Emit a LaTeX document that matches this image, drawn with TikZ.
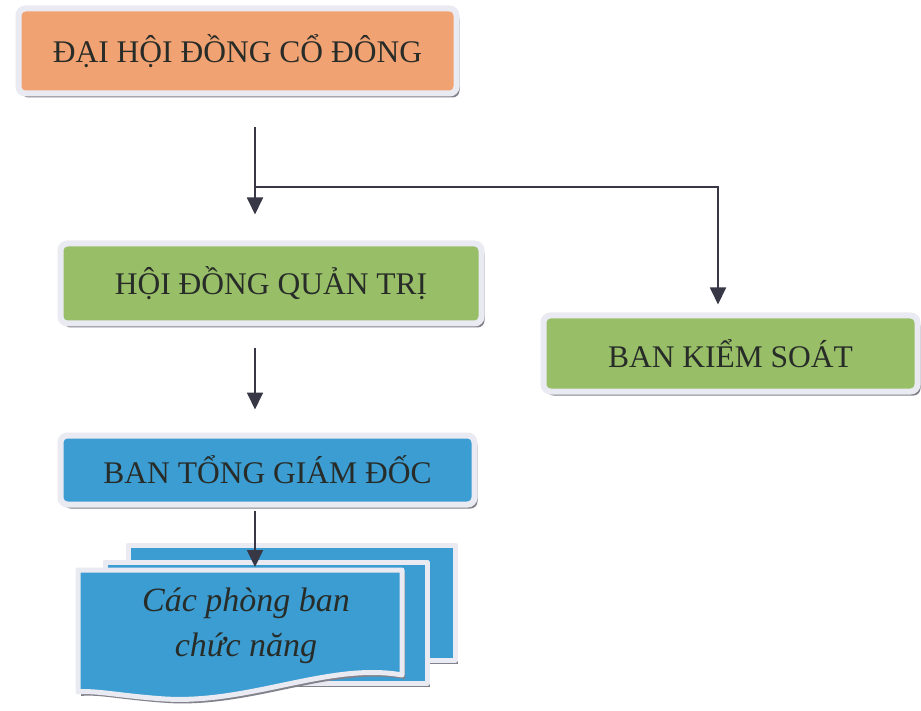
\documentclass[tikz,border=0pt]{standalone}
\usepackage{fontspec}
\setmainfont{Liberation Serif}
\usetikzlibrary{arrows.meta,shadows,positioning}
\definecolor{cam}{RGB}{241,162,114}
\definecolor{luc}{RGB}{152,190,104}
\definecolor{lam}{RGB}{60,157,210}
\definecolor{vien}{RGB}{234,234,242}
\definecolor{bong}{RGB}{130,130,140}
\definecolor{chu}{RGB}{40,44,40}
\definecolor{net}{RGB}{55,55,70}
\tikzset{%
	khoi/.style   = {draw=vien, line width=6pt, rounded corners=7pt, inner sep=0pt, text=chu,
	                 font=\fontsize{31.5}{36}\selectfont,
	                 drop shadow={shadow xshift=3pt, shadow yshift=-4pt, fill=bong, opacity=1}}, % box
	to/.style     = {khoi, fill=cam},
	xanh/.style   = {khoi, fill=luc},
	lamkhoi/.style= {khoi, fill=lam},
	trang/.style  = {draw=vien, line width=5pt, fill=lam, line join=round,
	                 drop shadow={shadow xshift=3pt, shadow yshift=-4pt, fill=bong, opacity=1}}, % sheet
	muiten/.style = {draw=net, line width=1.8pt, -{Triangle[length=17pt,width=16pt]}},
}
\begin{document}
\begin{tikzpicture}[x=1pt, y=-1pt]
	\useasboundingbox[fill=white] (0,0) rectangle (921,711);
	% boxes
	\node[to, minimum width=438pt, minimum height=85pt] (dhd) at (237.5,51) {ĐẠI HỘI ĐỒNG CỔ ĐÔNG};
	\node[xanh, minimum width=421pt, minimum height=80pt] (hdqt) at (271,283.5) {HỘI ĐỒNG QUẢN TRỊ};
	\node[xanh, minimum width=374pt, minimum height=76pt] (bks) at (730.5,353.5) {BAN KIỂM SOÁT};
	\node[lamkhoi, minimum width=414pt, minimum height=69pt] (btgd) at (267.5,470) {BAN TỔNG GIÁM ĐỐC};
	% stacked sheets
	\path[trang] (128,545) -- (455,545) -- (455,660) -- (128,660) -- cycle;
	\path[trang] (105,562) -- (427,562) -- (427,683) -- (105,683) -- cycle;
	\path[trang] (78,570) -- (402,570) -- (402,675)
		.. controls (330,662) and (250,704) .. (165,699)
		.. controls (120,696) and (95,690) .. (78,692) -- cycle;
	\node[align=center, text=chu, font=\fontsize{34}{45}\selectfont\itshape] (pb) at (246,626)
		{Các phòng ban\\chức năng};
	\coordinate (g1) at (255,125);
	\coordinate (re) at (255,187);
	\coordinate (dinh) at (255,567);

	\draw[muiten, shorten <=31pt, shorten >=26pt] (dhd.south -| g1) -- (g1 |- hdqt.north);
	\draw[muiten, shorten >=8pt] (re) -| ([xshift=-12.5pt]bks.north);
	\draw[muiten, shorten <=21pt, shorten >=23pt] (hdqt.south -| g1) -- (g1 |- btgd.north);
	\draw[muiten, shorten <=3pt] (btgd.south -| dinh) -- (dinh);
\end{tikzpicture}
\end{document}
